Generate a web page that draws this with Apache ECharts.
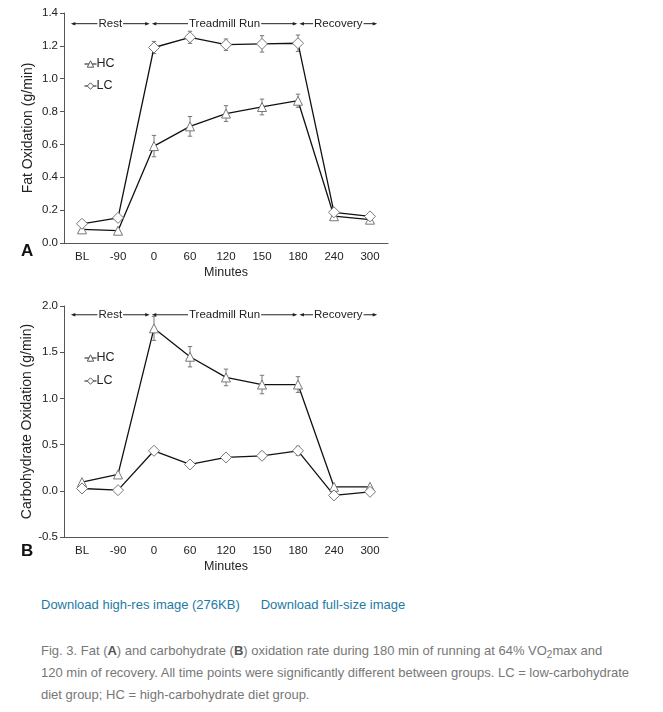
<!DOCTYPE html>
<html>
<head>
<meta charset="utf-8">
<script src="https://cdn.jsdelivr.net/npm/echarts@6/dist/echarts.min.js"></script>
<style>
  html, body { margin:0; padding:0; background:#fff; }
  #wrap { position:relative; width:663px; height:712px; overflow:hidden; font-family:'Liberation Sans', Arial, sans-serif; }
  #chart { position:absolute; left:0; top:0; width:663px; height:590px; }
  .links { position:absolute; left:41px; top:597px; font-size:13px; color:#1d7aa5; white-space:nowrap; }
  .links span { margin-right:21px; }
  .cap { position:absolute; left:41px; top:640px; font-size:13px; line-height:22px; color:#777; white-space:nowrap; }
  .cap b { color:#555; }
  .cap sub { font-size:10px; vertical-align:-3px; line-height:0; }
</style>
</head>
<body>
<div id="wrap">
  <div id="chart"></div>
  <div class="links"><span>Download high-res image (276KB)</span><span>Download full-size image</span></div>
  <div class="cap">Fig. 3. Fat (<b>A</b>) and carbohydrate (<b>B</b>) oxidation rate during 180 min of running at 64% VO<sub>2</sub>max and<br>120 min of recovery. All time points were significantly different between groups. LC = low-carbohydrate<br>diet group; HC = high-carbohydrate diet group.</div>
</div>
<script>
const categories = ['BL','-90','0','60','120','150','180','240','300'];
const fatHC    = [0.083,0.075,0.59,0.71,0.788,0.828,0.866,0.163,0.142];
const fatHCErr = [0,0,0.065,0.06,0.048,0.048,0.04,0,0];
const fatLC    = [0.117,0.153,1.19,1.252,1.207,1.212,1.216,0.187,0.162];
const fatLCErr = [0,0,0.037,0.037,0.035,0.05,0.05,0,0];
const choHC    = [0.094,0.177,1.758,1.451,1.227,1.15,1.15,0.043,0.043];
const choHCErr = [0,0,0.13,0.11,0.09,0.1,0.085,0,0];
const choLC    = [0.025,0.007,0.433,0.285,0.361,0.379,0.433,-0.05,-0.011];
const choLCErr = [0,0,0.02,0.02,0.02,0.04,0.05,0,0];
const phaseNames = ['Rest','Treadmill Run','Recovery'];
const phaseStart = [-0.31, 1.94, 6.04];   // in category units
const phaseEnd   = [1.88, 5.98, 8.2];
const fatTicks = {min:0, max:1.4, interval:0.2};
const choTicks = {min:-0.5, max:2.0, interval:0.5};

const FONT = "'Liberation Sans', Arial, sans-serif";
const chart = echarts.init(document.getElementById('chart'));

function errSeries(gi, vals, errs) {
  return {
    type:'custom', xAxisIndex:gi, yAxisIndex:gi, z:1, silent:true,
    data: vals.map((v,i)=>[i, v - errs[i], v + errs[i]]),
    renderItem(params, api) {
      const i = params.dataIndex;
      if (!errs[i]) return null;
      const lo = api.coord([i, vals[i]-errs[i]]);
      const hi = api.coord([i, vals[i]+errs[i]]);
      const c = 2.2;
      const st = {stroke:'#777', lineWidth:1};
      return {type:'group', children:[
        {type:'line', shape:{x1:lo[0],y1:lo[1],x2:hi[0],y2:hi[1]}, style:st},
        {type:'line', shape:{x1:hi[0]-c,y1:hi[1],x2:hi[0]+c,y2:hi[1]}, style:st},
        {type:'line', shape:{x1:lo[0]-c,y1:lo[1],x2:lo[0]+c,y2:lo[1]}, style:st}
      ]};
    }
  };
}

function phaseSeries(gi, yVal) {
  return {
    type:'custom', xAxisIndex:gi, yAxisIndex:gi, z:5, silent:true,
    data: phaseNames.map((n,i)=>[i, yVal]),
    renderItem(params, api) {
      const i = params.dataIndex;
      const p0 = api.coord([0, yVal]);
      const bw = api.size([1,0])[0];
      const x1 = p0[0] + phaseStart[i]*bw, x2 = p0[0] + phaseEnd[i]*bw, y = p0[1];
      const a = 4.5, h = 1.8;
      return {type:'group', children:[
        {type:'line', shape:{x1:x1+2,y1:y,x2:x2-2,y2:y}, style:{stroke:'#222', lineWidth:1}},
        {type:'polygon', shape:{points:[[x1,y],[x1+a,y-h],[x1+a,y+h]]}, style:{fill:'#222'}},
        {type:'polygon', shape:{points:[[x2,y],[x2-a,y-h],[x2-a,y+h]]}, style:{fill:'#222'}},
        {type:'text', x:(x1+x2)/2, y:y, style:{text:phaseNames[i], fill:'#222', font:'11.5px '+FONT,
          align:'center', verticalAlign:'middle', backgroundColor:'#fff', padding:[0,1]}}
      ]};
    }
  };
}

function lineSeries(gi, name, vals, sym, size) {
  return {
    type:'line', name, xAxisIndex:gi, yAxisIndex:gi, z:3, data: vals,
    symbol:sym, symbolSize:size, showAllSymbol:true,
    lineStyle:{color:'#111', width:1.3},
    itemStyle:{color:'#fff', borderColor:'#777', borderWidth:1},
    emphasis:{disabled:true}
  };
}

function xAxis(gi) {
  return {
    type:'category', gridIndex:gi, data:categories, boundaryGap:true,
    name:'Minutes', nameLocation:'middle', nameGap:23,
    nameTextStyle:{color:'#222', fontSize:12.5, fontFamily:FONT},
    axisLine:{onZero:false, lineStyle:{color:'#555', width:1}},
    axisTick:{length:4, lineStyle:{color:'#555'}},
    axisLabel:{color:'#222', fontSize:11.5, fontFamily:FONT, margin:8},
    splitLine:{show:false}
  };
}
function yAxis(gi, t, name) {
  return {
    type:'value', gridIndex:gi, min:t.min, max:t.max, interval:t.interval,
    name, nameLocation:'middle', nameGap:29,
    nameTextStyle:{color:'#222', fontSize:14, fontFamily:FONT},
    axisLine:{show:true, lineStyle:{color:'#555', width:1}},
    axisTick:{show:true, length:4, lineStyle:{color:'#555'}},
    axisLabel:{color:'#222', fontSize:11.5, fontFamily:FONT, margin:6, formatter:v=>v.toFixed(1)},
    splitLine:{show:false}
  };
}

function legend(top, gap) {
  return {
    orient:'vertical', left:79, top, itemGap:gap, itemWidth:12, itemHeight:8,
    data:['HC','LC'], selectedMode:false,
    itemStyle:{color:'#fff', borderColor:'#555', borderWidth:1},
    lineStyle:{color:'#111', width:1},
    textStyle:{color:'#222', fontSize:12.5, fontFamily:FONT, lineHeight:14, padding:[0,0,0,-5]}
  };
}

chart.setOption({
  animation:false,
  textStyle:{fontFamily:FONT},
  grid:[
    {left:64, top:13, width:324, height:230},
    {left:64, top:306, width:324, height:231}
  ],
  xAxis:[xAxis(0), xAxis(1)],
  yAxis:[yAxis(0, fatTicks, 'Fat Oxidation (g/min)'), yAxis(1, choTicks, 'Carbohydrate Oxidation (g/min)')],
  legend:[legend(52, 8), legend(346, 9)],
  graphic:[
    {type:'text', left:21, top:243, style:{text:'A', font:'bold 17px '+FONT, fill:'#111'}},
    {type:'text', left:21, top:543, style:{text:'B', font:'bold 17px '+FONT, fill:'#111'}}
  ],
  series:[
    errSeries(0, fatHC, fatHCErr),
    errSeries(0, fatLC, fatLCErr),
    lineSeries(0, 'HC', fatHC, 'triangle', 9),
    lineSeries(0, 'LC', fatLC, 'diamond', 11),
    phaseSeries(0, 1.335),
    errSeries(1, choHC, choHCErr),
    errSeries(1, choLC, choLCErr),
    lineSeries(1, 'HC', choHC, 'triangle', 9),
    lineSeries(1, 'LC', choLC, 'diamond', 11),
    phaseSeries(1, 1.905)
  ]
});
</script>
</body>
</html>
